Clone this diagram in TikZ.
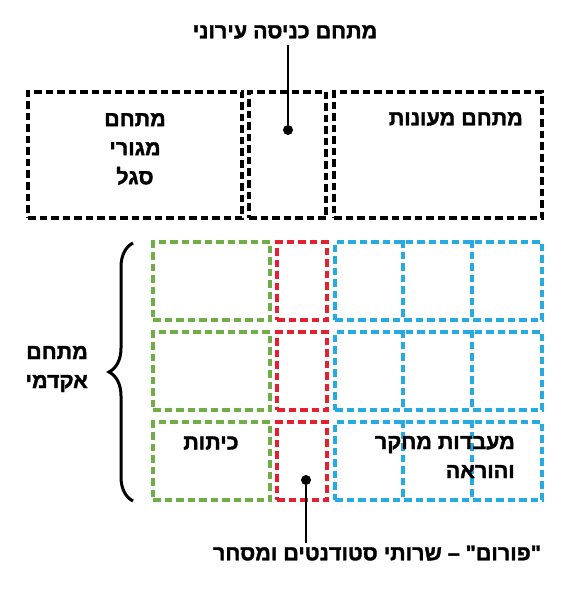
\documentclass[tikz,border=0pt]{standalone}
\usepackage{fontspec}
\newfontfamily\hebfont[Script=Hebrew, FakeBold=1.6]{Liberation Sans Bold}
\TeXXeTstate=1
\usetikzlibrary{decorations.pathreplacing}
\newcommand\heb[1]{\beginR #1\endR}
\definecolor{gclr}{RGB}{112,173,71}
\definecolor{rclr}{RGB}{228,32,48}
\definecolor{bclr}{RGB}{38,170,226}
\begin{document}
\begin{tikzpicture}[x=1pt,y=-1pt,
  dashst/.style={line width=3.2pt, dash pattern=on 7.5pt off 4pt},
  dbox/.style={draw, rectangle, dashst, inner sep=0pt, minimum height=78pt},
  topbox/.style={dbox, black, minimum height=126pt},
  gbox/.style={dbox, gclr, minimum width=117pt},
  rbox/.style={dbox, rclr, minimum width=50pt},
  bbox/.style={dbox, bclr, minimum width=207pt},
  lbl/.style={font=\hebfont\fontsize{21.5}{29}\selectfont, inner sep=2pt},
  dotst/.style={circle, fill=black, inner sep=0pt, minimum size=10pt},
  conn/.style={line width=2pt}]
\fill[white] (0,0) rectangle (572,596);
% top row
\node[topbox, minimum width=214pt] (ta) at (135,155) {};
\node[topbox, minimum width=77pt] (tb) at (287.5,155) {};
\node[topbox, minimum width=208pt] (tc) at (438,155) {};
% grid
\foreach \r/\y in {1/281,2/371,3/461}{
  \node[gbox] (g\r) at (211.5,\y) {};
  \node[rbox] (r\r) at (302,\y) {};
  \node[bbox] (b\r) at (438.5,\y) {};
  \draw[bclr, dashst] (b\r.north west) ++(69.5,0) -- ++(0,78);
  \draw[bclr, dashst] (b\r.north west) ++(138.5,0) -- ++(0,78);
}
% labels
\node[lbl] (toplbl) at (285,32) {\heb{מתחם כניסה עירוני}};
\node[dotst] (d1) at (288,130) {};
\draw[conn] (toplbl.south -| d1) ++(0,4) -- (d1);
\node[lbl, align=center] (segal) at (135,149) {\heb{מתחם}\\\heb{מגורי}\\\heb{סגל}};
\node[lbl, anchor=east] (meonot) at (525,119) {\heb{מתחם מעונות}};
\node[lbl, align=right, anchor=east] (akad) at (90,369) {\heb{מתחם}\\\heb{אקדמי}};
\node[lbl] (kitot) at (211,443) {\heb{כיתות}};
\node[lbl, align=right, anchor=east] (maabadot) at (517,457) {\heb{מעבדות מחקר}\\\heb{והוראה}};
\node[dotst] (d2) at (306,480) {};
\node[lbl] (botlbl) at (377,553) {\heb{"פורום" – שרותי סטודנטים ומסחר}};
\draw[conn] (d2) -- (d2 |- botlbl.north);
% brace
\coordinate (brb) at (133,501);
\coordinate (brt) at (133,243);
\draw[line width=3pt, decorate, decoration={brace, amplitude=24pt}] (brb) -- (brt);
\end{tikzpicture}
\end{document}
